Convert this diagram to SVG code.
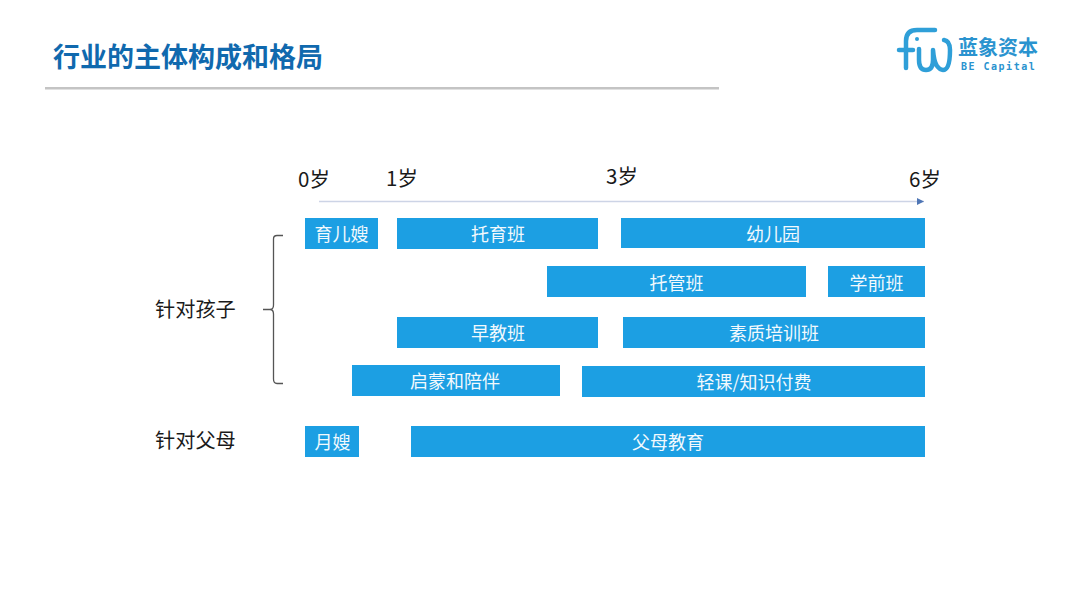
<svg xmlns="http://www.w3.org/2000/svg" width="1080" height="607" viewBox="0 0 1080 607">
<defs>
<style>
text{font-family:"Noto Sans CJK SC","Noto Sans",sans-serif}
.bar{fill:#1c9fe3}
.bl{fill:#f2f9fd;font-size:18px;text-anchor:middle;dominant-baseline:central}
.ax{fill:#1a1a1a;font-size:20.500px;text-anchor:middle}
.side{fill:#1a1a1a;font-size:20.200px}
.lg{fill:none;stroke:#2f9fd8;stroke-width:4.500;stroke-linecap:round;stroke-linejoin:round}
</style>
<marker id="arrow" markerUnits="userSpaceOnUse" markerWidth="8" markerHeight="8" refX="7" refY="4" orient="auto"><path d="M0 0.5L7 4L0 7.5Z" fill="#4f76b5"/></marker>
</defs>
<rect width="1080" height="607" fill="#fff"/>
<text x="53" y="67" font-size="27" font-weight="700" fill="#1069ae">行业的主体构成和格局</text>
<rect x="45" y="87" width="674" height="2.5" fill="#c4c4c4"/>
<g id="logo">
<path class="lg" d="M935 30H917Q906 30 906 41V68"/>
<path class="lg" d="M899 50H913"/>
<circle cx="917" cy="39" r="2" fill="#2f9fd8"/>
<path class="lg" d="M919 49V60Q919 70 926 70Q933 70 933 60V50Q934 62 937 66Q940 70 943 70Q950 70 950 50Q950 41 944 40"/>
<text x="958" y="55" font-size="20" font-weight="700" fill="#2a93cf">蓝象资本</text>
<text x="961" y="70" font-size="10" font-weight="700" letter-spacing="1.500" fill="#2a93cf" style="font-family:'DejaVu Sans Mono',monospace">BE Capital</text>
</g>
<g id="connectors" fill="none">
<path d="M319 201.500H924" stroke="#cdd4e6" stroke-width="1.500" marker-end="url(#arrow)"/>
<path d="M283 235.500H277Q273.500 235.500 273.500 239V305Q273.500 309.500 270 309.500H263M270 309.500Q273.500 309.500 273.500 314V379Q273.500 383.500 277 383.500H283" stroke="#555" stroke-width="1.300"/>
</g>
<g id="axis-0"><text class="ax" x="314" y="187">0岁</text></g>
<g id="axis-1"><text class="ax" x="402" y="186">1岁</text></g>
<g id="axis-3"><text class="ax" x="622" y="184">3岁</text></g>
<g id="axis-6"><text class="ax" x="925" y="187">6岁</text></g>
<g id="side-child"><text class="side" x="155" y="317">针对孩子</text></g>
<g id="side-parent"><text class="side" x="155" y="448">针对父母</text></g>
<g id="n1"><rect class="bar" x="305" y="218" width="73" height="31"/><text class="bl" x="341.500" y="233">育儿嫂</text></g>
<g id="n2"><rect class="bar" x="397" y="218" width="201" height="31"/><text class="bl" x="498" y="233">托育班</text></g>
<g id="n3"><rect class="bar" x="621" y="218" width="304" height="30"/><text class="bl" x="773" y="233">幼儿园</text></g>
<g id="n4"><rect class="bar" x="547" y="266" width="259" height="31"/><text class="bl" x="676.500" y="282">托管班</text></g>
<g id="n5"><rect class="bar" x="828" y="266" width="97" height="31"/><text class="bl" x="876.500" y="282">学前班</text></g>
<g id="n6"><rect class="bar" x="397" y="317" width="201" height="31"/><text class="bl" x="498" y="332">早教班</text></g>
<g id="n7"><rect class="bar" x="623" y="317" width="302" height="31"/><text class="bl" x="774" y="332">素质培训班</text></g>
<g id="n8"><rect class="bar" x="352" y="365" width="208" height="31"/><text class="bl" x="455" y="380">启蒙和陪伴</text></g>
<g id="n9"><rect class="bar" x="582" y="366" width="343" height="31"/><text class="bl" x="754" y="381">轻课/知识付费</text></g>
<g id="n10"><rect class="bar" x="305" y="426" width="54" height="31"/><text class="bl" x="332.500" y="441">月嫂</text></g>
<g id="n11"><rect class="bar" x="411" y="426" width="514" height="31"/><text class="bl" x="668" y="441">父母教育</text></g>
</svg>
